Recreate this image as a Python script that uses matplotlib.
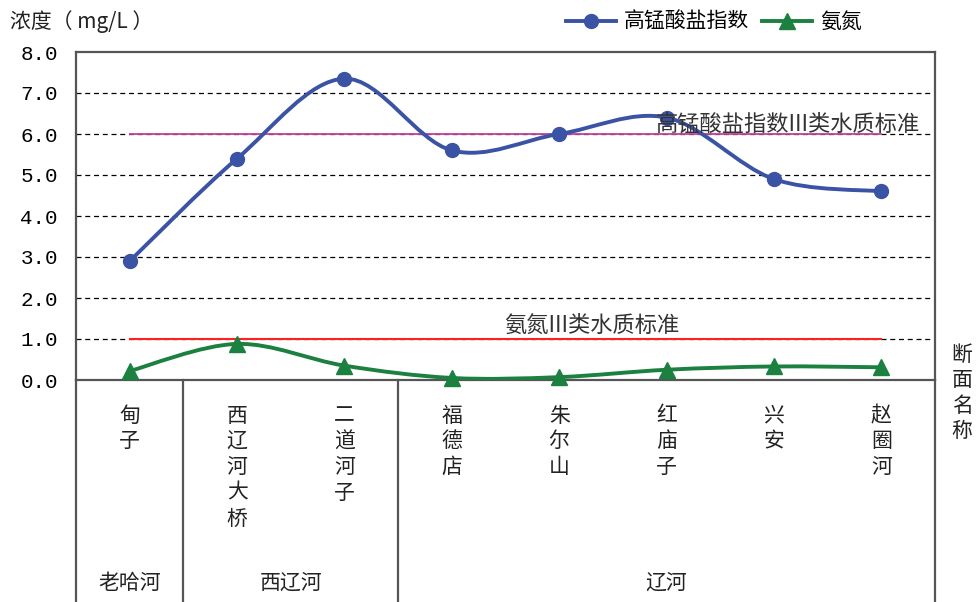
import matplotlib
matplotlib.use("Agg")
import matplotlib.pyplot as plt
from matplotlib.path import Path
from matplotlib.patches import PathPatch
from matplotlib.lines import Line2D
import numpy as np

plt.rcParams['font.family'] = ['Noto Sans CJK SC', 'DejaVu Sans']

sections = ["甸子", "西辽河大桥", "二道河子", "福德店", "朱尔山", "红庙子", "兴安", "赵圈河"]
rivers = ["老哈河", "西辽河", "辽河"]
river_counts = [1, 2, 5]
codmn = [2.9, 5.4, 7.35, 5.6, 6.0, 6.4, 4.9, 4.6]
nh3n = [0.22, 0.88, 0.35, 0.05, 0.07, 0.25, 0.33, 0.31]
codmn_std = 6.0
nh3n_std = 1.0
yticks = [0.0, 1.0, 2.0, 3.0, 4.0, 5.0, 6.0, 7.0, 8.0]

BLUE = "#3A53A4"
GREEN = "#1B8040"

W, H = 976, 602
fig = plt.figure(figsize=(W / 100, H / 100), dpi=100)
L, R, B, T = 76, 935, 380, 52
ax = fig.add_axes([L / W, 1 - B / H, (R - L) / W, (B - T) / H])

n = len(sections)
xs = np.arange(n) + 0.5
ax.set_xlim(0, n)
ax.set_ylim(0, 8)


def smooth_path(x, y):
    pts = np.column_stack([x, y])
    verts = [pts[0]]
    codes = [Path.MOVETO]
    for i in range(len(pts) - 1):
        p0 = pts[i - 1] if i > 0 else pts[i]
        p1 = pts[i]
        p2 = pts[i + 1]
        p3 = pts[i + 2] if i + 2 < len(pts) else pts[i + 1]
        c1 = p1 + (p2 - p0) / 6.0
        c2 = p2 - (p3 - p1) / 6.0
        verts += [c1, c2, p2]
        codes += [Path.CURVE4] * 3
    return Path(verts, codes)


# grid
for yv in yticks[1:-1]:
    ax.axhline(yv, color="black", lw=0.9, ls=(0, (4, 3)), zorder=1)

# standard lines
ax.plot([xs[0], xs[-1]], [codmn_std, codmn_std], color="#C040A0", lw=1.3, zorder=2)
ax.plot([xs[0], xs[-1]], [nh3n_std, nh3n_std], color="#FF2020", lw=1.5, zorder=2)
ax.text(xs[-1] + 0.36, codmn_std - 0.03, "高锰酸盐指数III类水质标准", ha="right", va="bottom",
        fontsize=16, color="#333333", zorder=6)
ax.text(4.8, nh3n_std + 0.05, "氨氮III类水质标准", ha="center", va="bottom",
        fontsize=16, color="#333333", zorder=6)

# series
for vals, col, mk, ms in [(codmn, BLUE, "o", 10), (nh3n, GREEN, "^", 11)]:
    ax.add_patch(PathPatch(smooth_path(xs, vals), fill=False, edgecolor=col, lw=2.8,
                           zorder=4, capstyle="round"))
    ax.plot(xs, vals, ls="none", marker=mk, color=col, ms=ms, zorder=5, clip_on=False)

# axes frame
ax.set_xticks([])
ax.set_yticks(yticks)
ax.set_yticklabels([f"{v:.1f}" for v in yticks], family="Liberation Mono", fontsize=15)
ax.tick_params(axis="y", length=0, pad=13)
for s in ["left", "right", "top", "bottom"]:
    ax.spines[s].set_color("#555555")
    ax.spines[s].set_linewidth(1.6)

ybot = -(H - B) / (B - T)
for xv in [0, n]:
    ax.plot([xv, xv], [0, ybot * 8], color="#555555", lw=1.6, clip_on=False,
            transform=ax.transData)
# separators between rivers
cum = np.cumsum(river_counts)
for c in cum[:-1]:
    ax.plot([c, c], [0, ybot * 8], color="#555555", lw=1.6, clip_on=False)

# category labels (vertical)
for x, name in zip(xs, sections):
    ax.text(x, -0.6, "\n".join(name), ha="center", va="top", fontsize=15,
            linespacing=1.22, color="#222222", clip_on=False)
# river labels
start = 0
for rv, c in zip(rivers, river_counts):
    ax.text(start + c / 2, -4.95, rv, ha="center", va="center", fontsize=15,
            color="#222222", clip_on=False)
    start += c

# side labels
fig.text(962 / W, 1 - 393 / H, "\n".join("断面名称"), ha="center", va="center",
         fontsize=15, linespacing=1.2, color="#222222")
fig.text(10 / W, 1 - 22 / H, "浓度（ mg/L ）", ha="left", va="center", fontsize=15,
         color="#222222")

handles = [Line2D([], [], color=BLUE, lw=2.8, marker="o", ms=10),
           Line2D([], [], color=GREEN, lw=2.8, marker="^", ms=11)]
fig.legend(handles, ["高锰酸盐指数", "氨氮"], loc="center left",
           bbox_to_anchor=(547 / W, 1 - 22 / H), ncol=2, frameon=False, fontsize=15,
           handlelength=2.4, columnspacing=0.6, handletextpad=0.4)

fig.savefig("out.png", dpi=100)
